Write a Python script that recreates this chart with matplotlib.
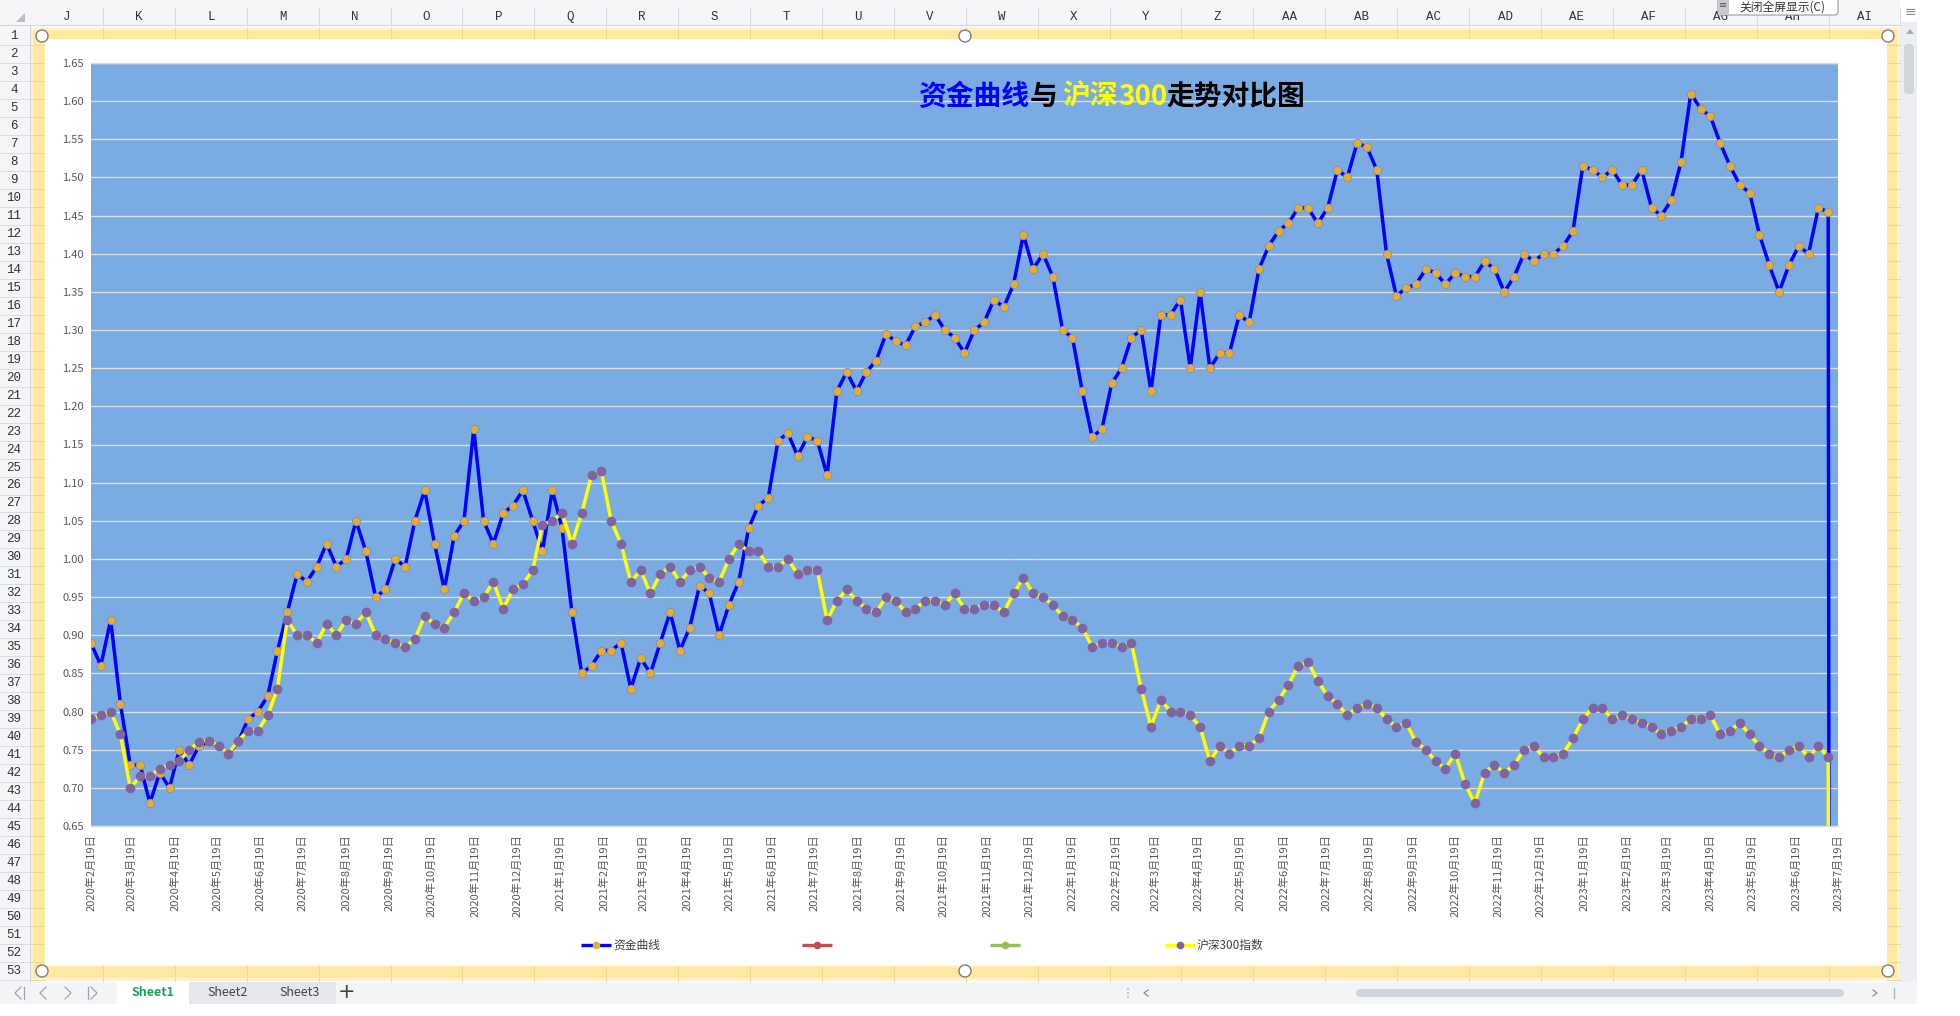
import numpy as np
import pandas as pd
import matplotlib
matplotlib.use("Agg")
import matplotlib.pyplot as plt
from matplotlib.patches import Rectangle, Circle, FancyBboxPatch, Polygon

plt.rcParams['font.family'] = ['Noto Sans CJK SC', 'DejaVu Sans']

W, H = 1960, 1016

# weekly readings of the two curves, first week starts 2020-02-19
fund = [
    0.89, 0.86, 0.92, 0.81, 0.73, 0.73, 0.68, 0.72, 0.70, 0.75,
    0.73, 0.755, 0.76, 0.755, 0.745, 0.76, 0.79, 0.80, 0.82, 0.88,
    0.93, 0.98, 0.97, 0.99, 1.02, 0.99, 1.00, 1.05, 1.01, 0.95,
    0.96, 1.00, 0.99, 1.05, 1.09, 1.02, 0.96, 1.03, 1.05, 1.17,
    1.05, 1.02, 1.06, 1.07, 1.09, 1.05, 1.01, 1.09, 1.04, 0.93,
    0.85, 0.86, 0.88, 0.88, 0.89, 0.83, 0.87, 0.85, 0.89, 0.93,
    0.88, 0.91, 0.965, 0.955, 0.90, 0.94, 0.97, 1.04, 1.07, 1.08,
    1.155, 1.165, 1.135, 1.16, 1.155, 1.11, 1.22, 1.245, 1.22, 1.245,
    1.26, 1.295, 1.285, 1.28, 1.305, 1.31, 1.32, 1.30, 1.29, 1.27,
    1.30, 1.31, 1.34, 1.33, 1.36, 1.425, 1.38, 1.40, 1.37, 1.30,
    1.29, 1.22, 1.16, 1.17, 1.23, 1.25, 1.29, 1.30, 1.22, 1.32,
    1.32, 1.34, 1.25, 1.35, 1.25, 1.27, 1.27, 1.32, 1.31, 1.38,
    1.41, 1.43, 1.44, 1.46, 1.46, 1.44, 1.46, 1.51, 1.50, 1.545,
    1.54, 1.51, 1.40, 1.345, 1.355, 1.36, 1.38, 1.375, 1.36, 1.375,
    1.37, 1.37, 1.39, 1.38, 1.35, 1.37, 1.40, 1.39, 1.40, 1.40,
    1.41, 1.43, 1.515, 1.51, 1.50, 1.51, 1.49, 1.49, 1.51, 1.46,
    1.45, 1.47, 1.52, 1.61, 1.59, 1.58, 1.545, 1.515, 1.49, 1.48,
    1.425, 1.385, 1.35, 1.385, 1.41, 1.40, 1.46, 1.455]
hs300 = [
    0.79, 0.795, 0.80, 0.77, 0.70, 0.715, 0.715, 0.725, 0.73, 0.735,
    0.75, 0.76, 0.762, 0.755, 0.745, 0.762, 0.775, 0.775, 0.795, 0.83,
    0.92, 0.90, 0.90, 0.89, 0.915, 0.90, 0.92, 0.915, 0.93, 0.90,
    0.895, 0.89, 0.885, 0.895, 0.925, 0.915, 0.91, 0.93, 0.955, 0.945,
    0.95, 0.97, 0.935, 0.96, 0.967, 0.985, 1.045, 1.05, 1.06, 1.02,
    1.06, 1.11, 1.115, 1.05, 1.02, 0.97, 0.985, 0.955, 0.98, 0.99,
    0.97, 0.985, 0.99, 0.975, 0.97, 1.00, 1.02, 1.01, 1.01, 0.99,
    0.99, 1.00, 0.98, 0.985, 0.985, 0.92, 0.945, 0.96, 0.945, 0.935,
    0.93, 0.95, 0.945, 0.93, 0.935, 0.945, 0.945, 0.94, 0.955, 0.935,
    0.935, 0.94, 0.94, 0.93, 0.955, 0.975, 0.955, 0.95, 0.94, 0.925,
    0.92, 0.91, 0.885, 0.89, 0.89, 0.885, 0.89, 0.83, 0.78, 0.815,
    0.80, 0.80, 0.795, 0.78, 0.735, 0.755, 0.745, 0.755, 0.755, 0.765,
    0.80, 0.815, 0.835, 0.86, 0.865, 0.84, 0.82, 0.81, 0.795, 0.805,
    0.81, 0.805, 0.79, 0.78, 0.785, 0.76, 0.75, 0.735, 0.725, 0.745,
    0.705, 0.68, 0.72, 0.73, 0.72, 0.73, 0.75, 0.755, 0.74, 0.74,
    0.745, 0.765, 0.79, 0.805, 0.805, 0.79, 0.795, 0.79, 0.785, 0.78,
    0.77, 0.775, 0.78, 0.79, 0.79, 0.795, 0.77, 0.775, 0.785, 0.77,
    0.755, 0.745, 0.74, 0.75, 0.755, 0.74, 0.755, 0.74]
dates = pd.date_range('2020-02-19', periods=len(fund), freq='7D')
# the sheet has one empty row at the end -> excel drops both lines to 0
end_date = pd.Timestamp('2023-07-13')
end_value = 0.0

tick_dates = pd.date_range('2020-02-19', periods=42, freq=pd.DateOffset(months=1))
tick_labels = [f'{d.year}年{d.month}月{d.day}日' for d in tick_dates]
y_ticks = np.round(np.arange(0.65, 1.651, 0.05), 2)

col_letters = ['J', 'K', 'L', 'M', 'N', 'O', 'P', 'Q', 'R', 'S', 'T', 'U', 'V',
               'W', 'X', 'Y', 'Z', 'AA', 'AB', 'AC', 'AD', 'AE', 'AF', 'AG', 'AH', 'AI']
row_numbers = list(range(1, 54))
sheet_names = ['Sheet1', 'Sheet2', 'Sheet3']
legend_names = ['资金曲线', '', '', '沪深300指数']
legend_lines = ['#0000FF', '#C0504D', '#9BBB59', '#FFFF00']
legend_marks = ['#E5AE2E', '#C0504D', '#9BBB59', '#8064A2']

fig = plt.figure(figsize=(W / 100, H / 100), dpi=100)
fig.patch.set_facecolor('white')

# ---- spreadsheet around the chart (pixel coordinates) ----
bg = fig.add_axes([0, 0, 1, 1])
bg.set_xlim(0, W)
bg.set_ylim(H, 0)
bg.axis('off')


def box(x0, y0, x1, y1, fc, z=1, **kw):
    bg.add_patch(Rectangle((x0, y0), x1 - x0, y1 - y0, facecolor=fc,
                           edgecolor=kw.pop('ec', 'none'), lw=kw.pop('lw', 0), zorder=z, **kw))


mono = 'Liberation Mono'
box(0, 0, 1900, 25, '#F5F6F8')
bg.plot([0, 1900], [25, 25], color='#D3D6DC', lw=0.8, zorder=2)
for i, c in enumerate(col_letters):
    bg.text(67 + 71.9 * i, 17, c, ha='center', va='center', fontsize=9,
            family=mono, color='#333333', zorder=3)
    xb = 31 + 71.9 * (i + 1)
    bg.plot([xb, xb], [8, 25], color='#D9DCE2', lw=0.8, zorder=2)
bg.add_patch(Polygon([(25, 13), (25, 22), (16, 22)], closed=True, fc='#B9BDC5', ec='none', zorder=3))

box(0, 25, 30, 982, '#F5F6F8')
bg.plot([30, 30], [25, 982], color='#D3D6DC', lw=0.8, zorder=2)
for r in row_numbers:
    y = 36 + 17.98 * (r - 1)
    bg.text(14, y, str(r), ha='center', va='center', fontsize=9, family=mono,
            color='#333333', zorder=3)
    bg.plot([0, 30], [y + 9, y + 9], color='#DADDE3', lw=0.7, zorder=2)

# yellow selection frame of the chart object
box(30, 27, 1900, 981, '#FFF2CC')
box(33, 30, 1897, 978, '#FFE8A1')
box(45, 39, 1887, 966, 'white', z=2)
for i in range(26):
    xb = 31 + 71.9 * (i + 1)
    if xb < 1887:
        bg.plot([xb, xb], [27, 39], color='#E8D7A0', lw=0.7, zorder=1.5)
        bg.plot([xb, xb], [966, 981], color='#E8D7A0', lw=0.7, zorder=1.5)
for r in row_numbers:
    y = 45 + 17.98 * (r - 1)
    bg.plot([30, 45], [y, y], color='#E8D7A0', lw=0.7, zorder=1.5)
    bg.plot([1887, 1900], [y, y], color='#E8D7A0', lw=0.7, zorder=1.5)
for hx, hy in [(42, 36), (965, 36), (1888, 36), (42, 971), (965, 971), (1888, 971)]:
    bg.add_patch(Circle((hx, hy), 6, fc='white', ec='#7F7F7F', lw=1.0, zorder=6))

# right scroll bar and popup
box(1900, 22, 1917, 982, '#EDEEF1')
bg.add_patch(FancyBboxPatch((1904, 44), 10, 50, boxstyle='round,pad=0,rounding_size=4',
                            fc='#D2D5DA', ec='none', zorder=3))
bg.add_patch(Polygon([(1906, 34), (1914, 34), (1910, 29)], closed=True, fc='#A8ACB4', ec='none', zorder=3))
bg.text(1910, 12, '≡', ha='center', va='center', fontsize=10, family='DejaVu Sans', color='#8A8E96', zorder=3)
bg.add_patch(FancyBboxPatch((1718, -6), 120, 21, boxstyle='round,pad=0,rounding_size=3',
                            fc='white', ec='#9A9A9A', lw=0.8, zorder=4))
box(1718, -6, 1729, 15, '#C9CACD', z=5)
bg.text(1723.5, 5, '≡', ha='center', va='center', fontsize=7, family='DejaVu Sans', color='#555555', zorder=6)
bg.text(1739, 7, '关闭全屏显示(C)', ha='left', va='center', fontsize=8.5, color='#333333', zorder=6)

# sheet tabs and horizontal scroll bar
box(0, 982, 1917, 1004, '#F3F4F6')
box(117, 982, 189, 1004, 'white', z=2)
box(189, 982, 336, 1004, '#E5E7EB', z=2)
for name, x, col, wt in zip(sheet_names, [153, 228, 300], ['#1AA260', '#444444', '#444444'],
                            ['bold', 'normal', 'normal']):
    bg.text(x, 993, name, ha='center', va='center', fontsize=9, color=col, weight=wt, zorder=3)
bg.text(347, 992, '+', ha='center', va='center', fontsize=15, family='DejaVu Sans',
        color='#444444', zorder=3)
for x, d, bar in [(18, -1, True), (43, -1, False), (68, 1, False), (94, 1, True)]:
    bg.plot([x - 3 * d, x + 3 * d, x - 3 * d], [987, 993, 999], color='#A0A4AC', lw=0.9, zorder=3)
    if bar:
        bg.plot([x - 6 * d, x - 6 * d], [987, 999], color='#A0A4AC', lw=0.9, zorder=3)
bg.plot([1128, 1128], [988, 998], color='#B0B3BA', lw=1.2, ls=(0, (1, 1.5)), zorder=3)
bg.plot([1148, 1144, 1148], [990, 993, 996], color='#8A8E96', lw=0.9, zorder=3)
bg.add_patch(FancyBboxPatch((1356, 989), 488, 8, boxstyle='round,pad=0,rounding_size=4',
                            fc='#D2D5DA', ec='none', zorder=3))
bg.plot([1873, 1877, 1873], [990, 993, 996], color='#8A8E96', lw=0.9, zorder=3)
bg.plot([1894, 1894], [988, 998], color='#B0B3BA', lw=1.0, zorder=3)

# legend of the excel chart
lx = [581, 802, 990, 1165]
for x0, name, lc, mc in zip(lx, legend_names, legend_lines, legend_marks):
    bg.plot([x0, x0 + 30], [945, 945], color=lc, lw=2.4, solid_capstyle='butt', zorder=5)
    bg.plot([x0 + 15], [945], marker='o', ms=5.5, mfc=mc, mec=mc, mew=0, zorder=6)
    if name:
        bg.text(x0 + 32, 945, name, ha='left', va='center', fontsize=8.5, color='#404040', zorder=6)

# ---- the chart itself ----
ax = fig.add_axes([91 / W, 1 - 826 / H, (1838 - 91) / W, (826 - 63) / H])
ax.set_facecolor('#7AABE2')
x_all = list(dates) + [end_date]
ax.plot(x_all, fund + [end_value], color='#0000FF', lw=2.5, marker='o', ms=6,
        mfc='#E5AE2E', mec='#8C93A8', mew=0.7, zorder=3)
ax.plot(x_all, hs300 + [end_value], color='#FFFF00', lw=2.5, marker='o', ms=7,
        mfc='#8064A2', mec='#8064A2', mew=0, zorder=4)

ax.set_xlim(tick_dates[0], tick_dates[-1])
ax.set_ylim(0.65, 1.65)
ax.set_xticks(tick_dates)
ax.set_xticklabels(tick_labels, rotation=90, fontsize=8, color='#595959')
ax.set_yticks(y_ticks)
ax.set_yticklabels([f'{v:.2f}' for v in y_ticks], fontsize=8, color='#595959')
ax.tick_params(axis='both', length=0)
ax.tick_params(axis='x', pad=6)
ax.tick_params(axis='y', pad=5)
ax.grid(axis='y', color='#DCDCDC', lw=1.0)
ax.set_axisbelow(True)
for s in ['left', 'right']:
    ax.spines[s].set_visible(False)
for s in ['top', 'bottom']:
    ax.spines[s].set_color('#DCDCDC')
    ax.spines[s].set_linewidth(1.0)

# title in four colours, placed piece by piece
title_parts = [('资金曲线', 918, '#0000FF'), ('与', 1030, '#000000'), ('沪深', 1062, '#FFFF00'),
               ('300', 1118, '#FFFF00'), ('走势对比图', 1166, '#000000')]
for s, x, col in title_parts:
    fig.text(x / W, 1 - 97 / H, s, ha='left', va='center', fontsize=20, weight='bold', color=col)

fig.savefig('out.png', dpi=100, facecolor='white')
